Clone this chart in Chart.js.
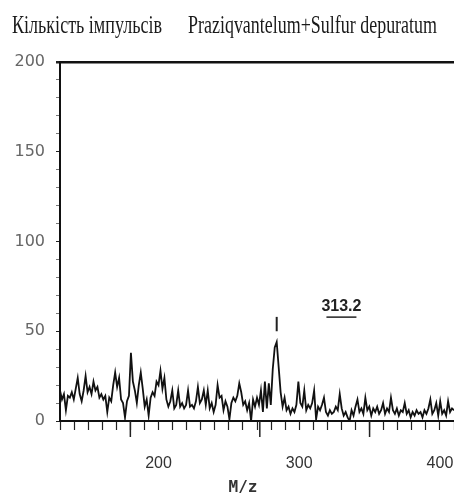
<!DOCTYPE html>
<html>
<head>
<meta charset="utf-8">
<script src="https://cdn.jsdelivr.net/npm/chart.js@4.4.0/dist/chart.umd.min.js"></script>
<style>
html,body{margin:0;padding:0;background:#fff;}
#wrap{width:454px;height:496px;}
</style>
</head>
<body>
<div id="wrap"><canvas id="c1"></canvas></div>
<script>
// titles
var yTitle = 'Кількість імпульсів';
var sampleName = 'Praziqvantelum+Sulfur depuratum';
var xTitle = 'M/z';

// spectrum (one sample every 1.4 m/z)
var mzStart = 130, mzStep = 1.4;
var counts = [
 17,12,15,6,14,13,16,12,18,24,
 15,11,17,25,16,19,15,22,17,19,
 13,15,12,14,5,13,11,20,27,19,
 24,12,10,2,11,14,38,22,17,10,
 20,27,18,8,12,3,13,16,14,22,
 20,28,18,24,12,8,11,17,7,9,
 17,8,10,7,9,17,8,9,7,11,
 19,10,12,17,9,17,7,10,5,9,
 20,13,14,6,11,8,1,10,13,11,
 14,21,16,9,11,6,10,0,12,8,
 13,9,17,5,22,7,21,9,29,41,
 44,30,16,8,13,6,8,4,7,5,
 9,22,10,8,17,6,9,7,10,17,
 1,8,6,9,13,5,3,6,4,5,
 8,6,15,7,3,5,2,0,6,3,
 8,12,5,7,4,13,6,8,3,7,
 5,8,4,6,10,4,7,5,13,6,
 4,7,3,6,5,10,4,6,2,5,
 3,6,4,5,2,6,4,7,12,4,
 6,10,3,11,4,6,3,11,5,7,
 6
];

var xTickLabels = [200, 300, 400];
var yTickLabels = [0, 50, 100, 150, 200];
var longTicks = [180, 272, 350];

// peak annotation
var peakMz = 284;
var peakLabel = '313.2';
var peakLabelMz = 330, peakLabelY = 64;

var points = [];
for (var i = 0; i < counts.length; i++) {
  points.push({x: mzStart + i * mzStep, y: counts[i]});
}

var extras = {
  id: 'extras',
  afterDraw: function(chart) {
    var ctx = chart.ctx;
    var xs = chart.scales.x, ys = chart.scales.y;
    ctx.save();
    ctx.fillStyle = '#1a1a1a';
    ctx.textBaseline = 'alphabetic';
    ctx.textAlign = 'left';
    ctx.font = '26px "Liberation Serif", serif';
    ctx.fillText(yTitle, 12, 33, 150);
    ctx.fillText(sampleName, 188, 33, 249);

    ctx.fillStyle = '#333';
    ctx.font = 'bold 16px "DejaVu Sans Mono", monospace';
    ctx.textAlign = 'center';
    ctx.textBaseline = 'middle';
    ctx.fillText(xTitle, 243, 488);

    // longer ticks on the m/z axis
    ctx.strokeStyle = '#222';
    ctx.lineWidth = 1.5;
    longTicks.forEach(function(v) {
      var px = xs.getPixelForValue(v);
      ctx.beginPath();
      ctx.moveTo(px, xs.top);
      ctx.lineTo(px, xs.top + 16);
      ctx.stroke();
    });

    // peak marker
    var pk = xs.getPixelForValue(peakMz);
    ctx.lineWidth = 2;
    ctx.beginPath();
    ctx.moveTo(pk, ys.getPixelForValue(58));
    ctx.lineTo(pk, ys.getPixelForValue(50));
    ctx.stroke();

    var lx = xs.getPixelForValue(peakLabelMz), ly = ys.getPixelForValue(peakLabelY);
    ctx.font = 'bold 16px "Liberation Sans Narrow", "Liberation Sans", sans-serif';
    ctx.fillStyle = '#222';
    ctx.fillText(peakLabel, lx, ly);
    ctx.lineWidth = 1.5;
    ctx.beginPath();
    ctx.moveTo(lx - 15, ly + 11);
    ctx.lineTo(lx + 15, ly + 11);
    ctx.stroke();
    ctx.restore();
  }
};

var ctx = document.getElementById('c1').getContext('2d');
var chart1 = new Chart(ctx, {
  type: 'line',
  data: {
    datasets: [{
      data: points,
      borderColor: '#111',
      borderWidth: 1.8,
      pointRadius: 0,
      tension: 0,
      fill: false
    }]
  },
  options: {
    responsive: true,
    maintainAspectRatio: false,
    animation: false,
    layout: {padding: {top: 62, left: 0, right: 0, bottom: 0}},
    plugins: {legend: {display: false}, tooltip: {enabled: false}, title: {display: false}},
    scales: {
      x: {
        type: 'linear',
        min: 130,
        max: 410,
        afterFit: function(s) { s.height = 75; s.paddingLeft = 0; s.paddingRight = 0; },
        border: {color: '#111', width: 2},
        grid: {drawOnChartArea: false, tickLength: 9, tickColor: '#222', tickWidth: 1.2},
        ticks: {
          stepSize: 10,
          autoSkip: false,
          maxRotation: 0,
          padding: 24,
          color: '#333',
          font: {family: '"Liberation Sans Narrow", "Liberation Sans", sans-serif', size: 16},
          callback: function(v) { v = Math.round(v); return xTickLabels.indexOf(v) >= 0 ? String(v) : ''; }
        }
      },
      y: {
        min: 0,
        max: 200,
        afterFit: function(s) { s.width = 60; },
        border: {color: '#111', width: 2},
        grid: {
          color: function(c) { return c.tick && Math.round(c.tick.value) === 200 ? '#111' : 'rgba(0,0,0,0)'; },
          lineWidth: function(c) { return c.tick && Math.round(c.tick.value) === 200 ? 2.5 : 1; },
          tickColor: function(c) { return c.tick && yTickLabels.indexOf(Math.round(c.tick.value)) >= 0 ? '#222' : '#777'; },
          tickLength: 4
        },
        ticks: {
          stepSize: 10,
          autoSkip: false,
          padding: 11,
          color: '#666',
          font: {family: '"DejaVu Sans", sans-serif', size: 16},
          callback: function(v) { v = Math.round(v); return yTickLabels.indexOf(v) >= 0 ? String(v) : ''; }
        }
      }
    }
  },
  plugins: [extras]
});
</script>
</body>
</html>
